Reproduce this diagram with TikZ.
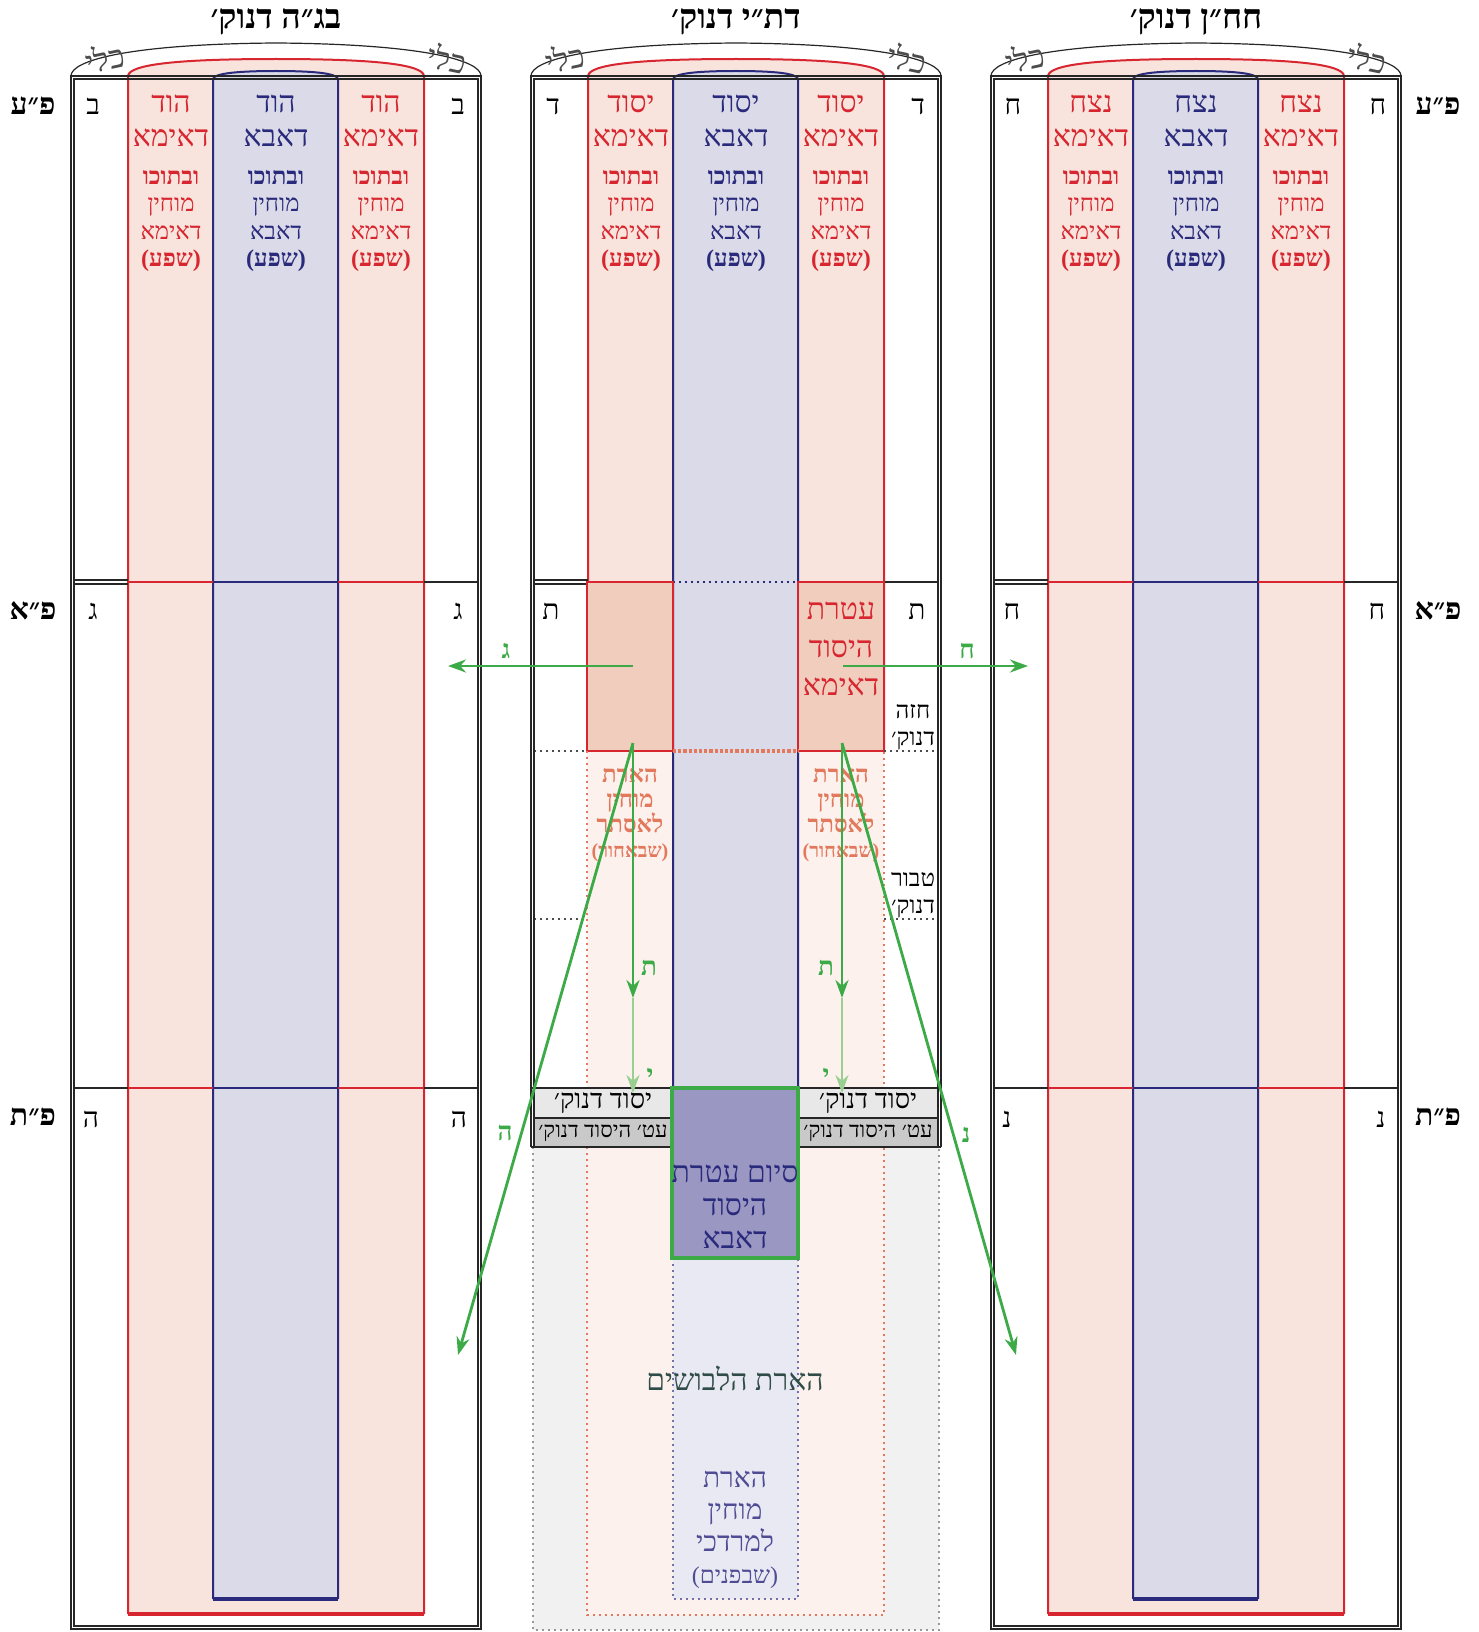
\documentclass[tikz,border=0pt]{standalone}
\usepackage{fontspec}
\setmainfont[Script=Hebrew]{Liberation Serif}
\TeXXeTstate=1
\newcommand\heb[1]{\beginR#1\endR}
\usetikzlibrary{arrows.meta}
\definecolor{imared}{HTML}{D7262F}
\definecolor{imafill}{HTML}{F8E4DC}
\definecolor{imadark}{HTML}{F0CDBD}
\definecolor{imalight}{HTML}{FCF1EC}
\definecolor{abablue}{HTML}{2A2A7C}
\definecolor{abafill}{HTML}{DADAE8}
\definecolor{abalight}{HTML}{E9E9F3}
\definecolor{sofbox}{HTML}{9B97C3}
\definecolor{arrgreen}{HTML}{3DAA48}
\definecolor{arrlight}{HTML}{9ACF92}
\definecolor{esthercol}{HTML}{E2785C}
\definecolor{mordcol}{HTML}{4F4C94}
\definecolor{levcol}{HTML}{2F4C48}
\definecolor{grayfill}{HTML}{F1F1F1}
\begin{document}
\begin{tikzpicture}[x=0.5pt,y=-0.5pt,>={Stealth[length=9pt,width=6.5pt]},
	every node/.style={inner sep=0pt},
	redline/.style={draw=imared,line width=1pt},
	blueline/.style={draw=abablue,line width=1pt},
	frameline/.style={draw=black!85,line width=0.6pt},
	rowline/.style={draw=black!85,line width=0.9pt},
	ttl/.style={font=\bfseries\fontsize{17}{17}\selectfont},
	kli/.style={text=black!70,font=\fontsize{16}{16}\selectfont},
	marg/.style={font=\fontsize{14}{14}\selectfont},
	side/.style={font=\bfseries\fontsize{15}{15}\selectfont},
	imaname/.style={align=center,text=imared,font=\fontsize{15}{17}\selectfont},
	abaname/.style={imaname,text=abablue},
	imasub/.style={align=center,text=imared,font=\fontsize{12}{13.7}\selectfont},
	abasub/.style={imasub,text=abablue},
	note/.style={align=center,font=\fontsize{12}{13.5}\selectfont},
	esther/.style={align=center,text=esthercol,font=\bfseries\fontsize{12}{12.5}\selectfont},
	gtag/.style={text=arrgreen,font=\bfseries\fontsize{13}{13}\selectfont},
	grn/.style={draw=arrgreen,line width=1.4pt},
	grnlight/.style={draw=arrlight,line width=1.4pt}]
	\useasboundingbox (0,0) rectangle (1478,1632);
	% lower part of the middle column
	\fill[grayfill] (533,1147) rectangle (939,1630);
	\fill[imalight] (587,751) rectangle (884,1615);
	\fill[abalight] (673,1258) rectangle (798,1599);
	% red and blue columns with their arcs
	\foreach \x/\yr/\yb in {71/1614/1599, 531/751/1088, 991/1614/1599} {
		\fill[imafill] (\x+57,\yr) -- (\x+57,76) .. controls (\x+58,64) and (\x+110,59) .. (\x+205,59)
			.. controls (\x+300,59) and (\x+352,64) .. (\x+353,76) -- (\x+353,\yr) -- cycle;
		\fill[abafill] (\x+142,\yb) -- (\x+142,79) .. controls (\x+143,73) and (\x+170,71) .. (\x+205,71)
			.. controls (\x+240,71) and (\x+266,73) .. (\x+267,79) -- (\x+267,\yb) -- cycle;
		\draw[redline] (\x+57,\yr) -- (\x+57,76) .. controls (\x+58,64) and (\x+110,59) .. (\x+205,59)
			.. controls (\x+300,59) and (\x+352,64) .. (\x+353,76) -- (\x+353,\yr);
		\draw[blueline] (\x+142,\yb) -- (\x+142,79) .. controls (\x+143,73) and (\x+170,71) .. (\x+205,71)
			.. controls (\x+240,71) and (\x+266,73) .. (\x+267,79) -- (\x+267,\yb);
		\draw[frameline] (\x,76) .. controls (\x,60) and (\x+60,44) .. (\x+205,43)
			.. controls (\x+350,44) and (\x+410,60) .. (\x+410,76);
		\draw[redline] (\x+57,582) -- (\x+142,582) (\x+267,582) -- (\x+353,582);
		\draw[frameline] (\x+3,580) -- (\x+57,580) (\x+3,584) -- (\x+57,584);
		\draw[rowline] (\x+353,582) -- (\x+407,582);
	}
	% side columns
	\foreach \x in {71,991} {
		\draw[blueline] (\x+142,582) -- (\x+267,582);
		\draw[redline] (\x+57,1088) -- (\x+142,1088) (\x+267,1088) -- (\x+353,1088);
		\draw[blueline] (\x+142,1088) -- (\x+267,1088);
		\draw[rowline] (\x+3,1088) -- (\x+57,1088) (\x+353,1088) -- (\x+407,1088);
		\draw[redline,line width=1.6pt] (\x+57,1614) -- (\x+353,1614);
		\draw[blueline,line width=2pt] (\x+142,1599) -- (\x+267,1599);
		\draw[frameline] (\x,76) rectangle (\x+410,1629);
		\draw[frameline] (\x+3,79) rectangle (\x+407,1626);
	}
	% middle column
	\draw[abablue,line width=1pt,dotted] (673,582) -- (798,582);
	\filldraw[fill=imadark,draw=imared,line width=1pt] (587,582) rectangle (673,751);
	\filldraw[fill=imadark,draw=imared,line width=1pt] (798,582) rectangle (884,751);
	\draw[esthercol,line width=1.6pt,densely dotted] (673,751) -- (798,751);
	\draw[black!70,line width=1pt,dotted] (534,751) -- (587,751) (884,751) -- (938,751);
	\draw[black!70,line width=1pt,dotted] (534,919) -- (587,919) (884,919) -- (938,919);
	\draw[esthercol,line width=1pt,dotted] (587,751) -- (587,1615) -- (884,1615) -- (884,751);
	\draw[black!40,line width=1pt,dotted] (533,1147) -- (533,1630) -- (939,1630) -- (939,1147);
	\draw[mordcol!80,line width=1pt,dotted] (673,1258) -- (673,1599) -- (798,1599) -- (798,1258);
	\filldraw[fill=black!9,draw=black!85,line width=0.6pt] (534,1088) rectangle (672,1118);
	\filldraw[fill=black!21,draw=black!85,line width=0.6pt] (534,1118) rectangle (672,1147);
	\filldraw[fill=black!9,draw=black!85,line width=0.6pt] (798,1088) rectangle (938,1118);
	\filldraw[fill=black!21,draw=black!85,line width=0.6pt] (798,1118) rectangle (938,1147);
	\draw[frameline] (531,1147) -- (531,76) -- (941,76) -- (941,1147);
	\draw[frameline] (534,1088) -- (534,79) -- (938,79) -- (938,1088);
	\draw[rowline] (531,1088) -- (941,1088) (531,1147) -- (941,1147);
	\filldraw[fill=sofbox,draw=arrgreen,line width=2pt] (672,1088) rectangle (798,1258);
	% titles and letters
	\foreach \x/\nm/\ml/\hd/\cn in {71/הוד/ב/בג״ה/L, 531/יסוד/ד/דת״י/M, 991/נצח/ח/חח״ן/R} {
		\node[ttl] (\cn-title) at (\x+205,22) {\heb{\hd{} דנוק׳}};
		\node[kli,rotate=12] (\cn-kli1) at (\x+34,58) {\heb{כלי}};
		\node[kli,rotate=-12] (\cn-kli2) at (\x+376,58) {\heb{כלי}};
		\node[marg] (\cn-m1) at (\x+22,106) {\heb{\ml}};
		\node[marg] (\cn-m2) at (\x+387,106) {\heb{\ml}};
		\node[imaname] (\cn-n1) at (\x+100,121) {\heb{\nm}\\\heb{דאימא}};
		\node[abaname] (\cn-n2) at (\x+205,121) {\heb{\nm}\\\heb{דאבא}};
		\node[imaname] (\cn-n3) at (\x+310,121) {\heb{\nm}\\\heb{דאימא}};
		\node[imasub] (\cn-s1) at (\x+100,221) {\heb{\textbf{ובתוכו}}\\\heb{מוחין}\\\heb{דאימא}\\\heb{\textbf{(שפע)}}};
		\node[abasub] (\cn-s2) at (\x+205,221) {\heb{\textbf{ובתוכו}}\\\heb{מוחין}\\\heb{דאבא}\\\heb{\textbf{(שפע)}}};
		\node[imasub] (\cn-s3) at (\x+310,221) {\heb{\textbf{ובתוכו}}\\\heb{מוחין}\\\heb{דאימא}\\\heb{\textbf{(שפע)}}};
	}
	\node[marg] (L-m3) at (93,611) {\heb{ג}};
	\node[marg] (L-m4) at (458,611) {\heb{ג}};
	\node[marg] (L-m5) at (91,1119) {\heb{ה}};
	\node[marg] (L-m6) at (459,1119) {\heb{ה}};
	\node[marg] (M-m3) at (551,611) {\heb{ת}};
	\node[marg] (M-m4) at (917,611) {\heb{ת}};
	\node[marg] (R-m3) at (1012,611) {\heb{ח}};
	\node[marg] (R-m4) at (1377,611) {\heb{ח}};
	\node[marg] (R-m5) at (1007,1119) {\heb{נ}};
	\node[marg] (R-m6) at (1381,1119) {\heb{נ}};
	\node[side] (pe-ayin-l) at (33,106) {\heb{פ״ע}};
	\node[side] (pe-alef-l) at (33,611) {\heb{פ״א}};
	\node[side] (pe-tav-l) at (33,1117) {\heb{פ״ת}};
	\node[side] (pe-ayin-r) at (1438,106) {\heb{פ״ע}};
	\node[side] (pe-alef-r) at (1438,611) {\heb{פ״א}};
	\node[side] (pe-tav-r) at (1438,1117) {\heb{פ״ת}};
	% middle column texts
	\node[imaname,font=\fontsize{15}{19}\selectfont] (ateret-ima) at (841,649) {\heb{עטרת}\\\heb{היסוד}\\\heb{דאימא}};
	\node[note] (chaze) at (913,727) {\heb{חזה}\\\heb{דנוק׳}};
	\node[note] (tabur) at (913,895) {\heb{טבור}\\\heb{דנוק׳}};
	\node[esther] (esther-l) at (630,815) {\heb{הארת}\\\heb{מוחין}\\\heb{לאסתר}\\\heb{\fontsize{10}{10}\selectfont(שבאחור)}};
	\node[esther] (esther-r) at (841,815) {\heb{הארת}\\\heb{מוחין}\\\heb{לאסתר}\\\heb{\fontsize{10}{10}\selectfont(שבאחור)}};
	\node[font=\fontsize{13.5}{13.5}\selectfont] (yesod-l) at (603,1103) {\heb{יסוד דנוק׳}};
	\node[font=\fontsize{13.5}{13.5}\selectfont] (yesod-r) at (868,1103) {\heb{יסוד דנוק׳}};
	\node[font=\fontsize{11}{11}\selectfont] (ateret-l) at (603,1133) {\heb{עט׳ היסוד דנוק׳}};
	\node[font=\fontsize{11}{11}\selectfont] (ateret-r) at (868,1133) {\heb{עט׳ היסוד דנוק׳}};
	\node[abaname,font=\fontsize{15}{16.5}\selectfont] (siyum) at (735,1207) {\heb{סיום עטרת}\\\heb{היסוד}\\\heb{דאבא}};
	\node[text=levcol,font=\fontsize{15}{15}\selectfont] (levushim) at (735,1378) {\heb{הארת הלבושים}};
	\node[align=center,text=mordcol,font=\fontsize{14}{16}\selectfont] (mordechai) at (735,1530) {\heb{הארת}\\\heb{מוחין}\\\heb{למרדכי}\\\heb{\fontsize{12}{12}\selectfont(שבפנים)}};
	% green arrows
	\coordinate (hL) at (633,666);
	\coordinate (hLend) at (448,666);
	\coordinate (hR) at (843,666);
	\coordinate (hRend) at (1028,666);
	\coordinate (vL) at (633,743);
	\coordinate (vLmid) at (633,998);
	\coordinate (vLend) at (633,1093);
	\coordinate (vR) at (842,743);
	\coordinate (vRmid) at (842,998);
	\coordinate (vRend) at (842,1093);
	\coordinate (dLend) at (458,1355);
	\coordinate (dRend) at (1016,1355);
	\draw[grn,->] (hL) -- (hLend);
	\draw[grn,->] (hR) -- (hRend);
	\draw[grn,->] (vL) -- (vLmid);
	\draw[grnlight,->] (vLmid) -- (vLend);
	\draw[grn,->] (vR) -- (vRmid);
	\draw[grnlight,->] (vRmid) -- (vRend);
	\draw[grn,->] (vL) -- (dLend);
	\draw[grn,->] (vR) -- (dRend);
	\node[gtag] (tag-gimel) at (506,651) {\heb{ג}};
	\node[gtag] (tag-chet) at (967,651) {\heb{ח}};
	\node[gtag] (tag-tav-l) at (649,968) {\heb{ת}};
	\node[gtag] (tag-tav-r) at (826,968) {\heb{ת}};
	\node[gtag] (tag-yud-l) at (650,1076) {\heb{י}};
	\node[gtag] (tag-yud-r) at (826,1076) {\heb{י}};
	\node[gtag] (tag-he) at (505,1133) {\heb{ה}};
	\node[gtag] (tag-nun) at (966,1135) {\heb{נ}};
\end{tikzpicture}
\end{document}
